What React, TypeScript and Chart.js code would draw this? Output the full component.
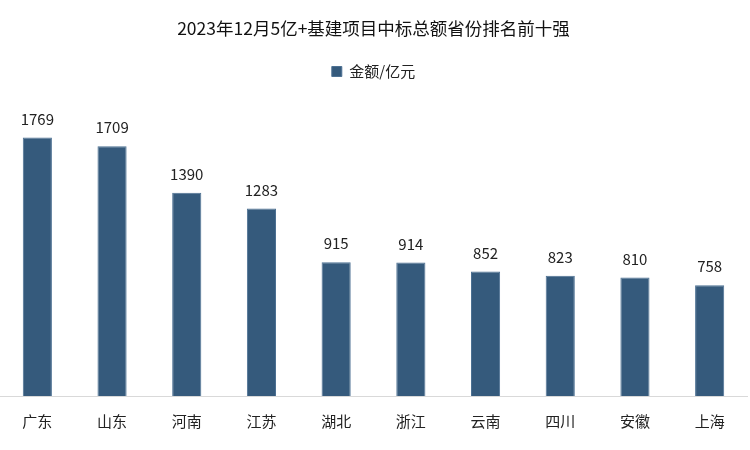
import React, { useEffect, useRef } from "react";
import { Chart, registerables } from "chart.js";

Chart.register(...registerables);

const categories = ["广东", "山东", "河南", "江苏", "湖北", "浙江", "云南", "四川", "安徽", "上海"];
const amounts = [1769, 1709, 1390, 1283, 915, 914, 852, 823, 810, 758];
const seriesName = "金额/亿元";
const titleText = "2023年12月5亿+基建项目中标总额省份排名前十强";

const FONT = "'Noto Sans CJK SC', 'Noto Sans', sans-serif";

const valueLabels = {
  id: "valueLabels",
  afterDatasetsDraw(chart: any) {
    const ctx = chart.ctx;
    const meta = chart.getDatasetMeta(0);
    ctx.save();
    ctx.font = `15px ${FONT}`;
    ctx.fillStyle = "#222222";
    ctx.textAlign = "center";
    ctx.textBaseline = "bottom";
    meta.data.forEach((bar: any, i: number) => {
      ctx.fillText(String(chart.data.datasets[0].data[i]), bar.x, bar.y - 11);
    });
    ctx.restore();
  },
};

export default function App() {
  const ref = useRef<HTMLCanvasElement>(null);
  useEffect(() => {
    if (!ref.current) return;
    const chart = new Chart(ref.current, {
      type: "bar",
      data: {
        labels: categories,
        datasets: [
          {
            label: seriesName,
            data: amounts,
            backgroundColor: "#355a7c",
            borderColor: "#4d7193",
            borderWidth: 1,
            barPercentage: 0.39,
            categoryPercentage: 1,
          },
        ],
      },
      options: {
        animation: false,
        responsive: false,
        maintainAspectRatio: false,
        layout: { padding: { left: 0, right: 3, top: 6, bottom: 12 } },
        plugins: {
          title: {
            display: true,
            text: titleText,
            color: "#111111",
            font: { family: FONT, size: 17.5, weight: "normal" },
            padding: { top: 12, bottom: 15 },
          },
          legend: {
            display: true,
            labels: {
              color: "#222222",
              font: { family: FONT, size: 15 },
              boxWidth: 10,
              boxHeight: 10,
              padding: 10,
            },
          },
          tooltip: { enabled: false },
        },
        scales: {
          x: {
            grid: { display: false },
            border: { display: true, color: "#d9d9d9", width: 1 },
            ticks: { color: "#222222", font: { family: FONT, size: 15 }, padding: 8 },
          },
          y: {
            display: false,
            min: 0,
            max: 2100,
          },
        },
      },
      plugins: [valueLabels],
    });
    return () => chart.destroy();
  }, []);
  return (
    <div style={{ position: "fixed", left: 0, top: 0, width: 750, height: 450, background: "#fff" }}>
      <canvas ref={ref} width={750} height={450} />
    </div>
  );
}
